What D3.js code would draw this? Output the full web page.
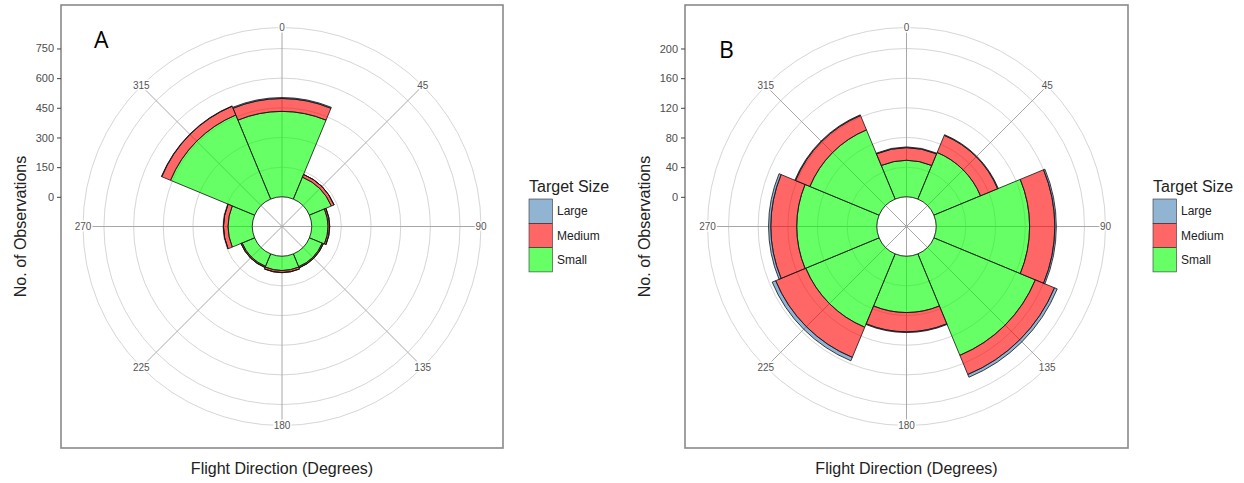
<!DOCTYPE html>
<html>
<head>
<meta charset="utf-8">
<script src="https://cdn.jsdelivr.net/npm/d3@7"></script>
<style>
  body { margin: 0; background: #fff; }
  svg { display: block; font-family: "Liberation Sans", Arial, sans-serif; }
</style>
</head>
<body>
<svg id="chart" width="1244" height="483"></svg>
<script>
// flight directions (bin centres, degrees)
const directions = [0, 45, 90, 135, 180, 225, 270, 315];
const angleTicks = [0, 45, 90, 135, 180, 225, 270, 315];
const sizeKeys = ["Small", "Medium", "Large"];        // stacking order, inside -> out
const legendKeys = ["Large", "Medium", "Small"];
const sizeColors = { Large: "steelblue", Medium: "#ff0000", Small: "#00ff00" };

// panel A counts
const smallA  = [432, 120, 82, 70, 72, 68, 122, 460];
const mediumA = [65, 15, 8, 6, 10, 6, 23, 48];
const largeA  = [5, 0, 1, 1, 1, 1, 1, 2];
const ticksA  = [0, 150, 300, 450, 600, 750];

// panel B counts
const smallB  = [49, 68, 126, 148, 76, 107, 108, 101];
const mediumB = [17, 25, 34, 28, 26, 44, 35, 21];
const largeB  = [1, 1, 2, 4, 1, 5, 3, 1];
const ticksB  = [0, 40, 80, 120, 160, 200];

let svg = d3.select("#chart");

function drawPanel(p) {
  let g = svg.append("g");
  let cx = (p.left + p.right) / 2;
  let cy = (p.top + p.bottom) / 2;
  let R = 199; // outer ring radius

  // radial scale: hole in the middle comes from the negative lower limit
  let r = d3.scaleLinear().domain(p.domain).range([0, R]);
  let ang = d3.scaleLinear().domain([0, 360]).range([0, 2 * Math.PI]);

  // panel border
  g.append("rect")
    .attr("x", p.left).attr("y", p.top)
    .attr("width", p.right - p.left).attr("height", p.bottom - p.top)
    .attr("fill", "none").attr("stroke", "#8a8a8a").attr("stroke-width", 1.6);

  let plot = g.append("g").attr("transform", `translate(${cx},${cy})`);

  // circular grid
  plot.selectAll("circle.grid")
    .data(p.ticks.concat([p.domain[1]]))
    .enter().append("circle")
    .attr("r", d => r(d))
    .attr("fill", "none").attr("stroke", "#d6d6d6").attr("stroke-width", 1);

  // spokes
  plot.selectAll("line.spoke")
    .data(angleTicks)
    .enter().append("line")
    .attr("x1", 0).attr("y1", 0)
    .attr("x2", d => R * Math.sin(ang(d)))
    .attr("y2", d => -R * Math.cos(ang(d)))
    .attr("stroke", "#a8a8a8").attr("stroke-width", 1);

  // stacked bars (semi-transparent, grid shows through)
  let table = directions.map((d, i) => ({ dir: d, Small: p.small[i], Medium: p.medium[i], Large: p.large[i] }));
  let series = d3.stack().keys(sizeKeys)(table);
  let arc = d3.arc()
    .innerRadius(d => r(d[0]))
    .outerRadius(d => r(d[1]))
    .startAngle(d => ang(d.data.dir - 22.5))
    .endAngle(d => ang(d.data.dir + 22.5));

  plot.selectAll("g.layer")
    .data(series)
    .enter().append("g")
    .attr("fill", d => sizeColors[d.key])
    .attr("fill-opacity", 0.6)
    .selectAll("path")
    .data(d => d)
    .enter().append("path")
    .attr("d", arc)
    .attr("stroke", "#111").attr("stroke-width", 0.8);

  // angle labels on the outer ring
  plot.selectAll("text.angle")
    .data(angleTicks)
    .enter().append("text")
    .attr("x", d => R * Math.sin(ang(d)))
    .attr("y", d => -R * Math.cos(ang(d)))
    .attr("dy", "0.35em")
    .attr("text-anchor", "middle")
    .attr("font-size", 10).attr("fill", "#555")
    .attr("stroke", "#fff").attr("stroke-width", 3).attr("paint-order", "stroke")
    .text(d => d);

  // radial axis on the left edge of the panel
  let yScale = d3.scaleLinear().domain(p.domain).range([cy, cy - R]);
  let yAxis = g.append("g")
    .attr("transform", `translate(${p.left},0)`)
    .call(d3.axisLeft(yScale).tickValues(p.ticks).tickSize(4).tickPadding(3));
  yAxis.select(".domain").remove();
  yAxis.selectAll(".tick line").attr("stroke", "#444");
  yAxis.selectAll(".tick text").attr("font-size", 11).attr("fill", "#4d4d4d")
    .attr("font-family", "Liberation Sans, Arial, sans-serif");

  // axis titles
  g.append("text")
    .attr("transform", `translate(${p.left - 41},${cy}) rotate(-90)`)
    .attr("text-anchor", "middle").attr("dy", "0.35em")
    .attr("font-size", 16).attr("fill", "#222")
    .text("No. of Observations");
  g.append("text")
    .attr("x", cx).attr("y", 474)
    .attr("text-anchor", "middle")
    .attr("font-size", 16).attr("fill", "#222")
    .text("Flight Direction (Degrees)");

  // panel letter
  g.append("text")
    .attr("x", p.left + p.letterDx).attr("y", p.letterY)
    .attr("font-family", "Open Sans, sans-serif")
    .attr("font-size", 23).attr("fill", "#000")
    .text(p.letter);

  // legend
  let lg = g.append("g").attr("transform", `translate(${p.legendX},0)`);
  lg.append("text").attr("x", 0).attr("y", 192)
    .attr("font-size", 16).attr("fill", "#222").text("Target Size");
  lg.selectAll("rect.key")
    .data(legendKeys)
    .enter().append("rect")
    .attr("x", 0).attr("y", (d, i) => 199 + i * 24.3)
    .attr("width", 23.5).attr("height", 24.3)
    .attr("fill", d => sizeColors[d]).attr("fill-opacity", 0.6)
    .attr("stroke", "#333").attr("stroke-width", 0.6);
  lg.selectAll("text.key")
    .data(legendKeys)
    .enter().append("text")
    .attr("x", 28).attr("y", (d, i) => 199 + i * 24.3 + 12.2)
    .attr("dy", "0.35em")
    .attr("font-size", 12).attr("fill", "#222")
    .text(d => d);
}

drawPanel({
  left: 61, right: 503, top: 5, bottom: 448,
  domain: [-150, 856], ticks: ticksA,
  small: smallA, medium: mediumA, large: largeA,
  letter: "A", letterDx: 33, letterY: 48, legendX: 529
});

drawPanel({
  left: 685, right: 1128, top: 5, bottom: 448,
  domain: [-40, 228.3], ticks: ticksB,
  small: smallB, medium: mediumB, large: largeB,
  letter: "B", letterDx: 34, letterY: 58, legendX: 1153
});
</script>
</body>
</html>
